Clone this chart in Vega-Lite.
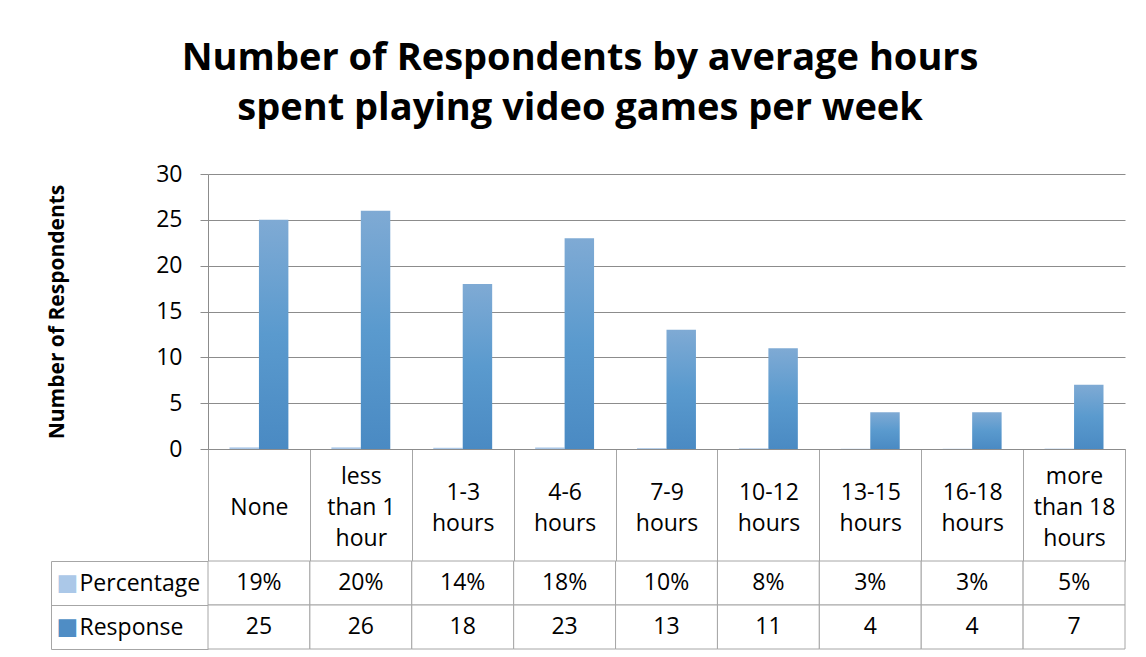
{
  "$schema": "https://vega.github.io/schema/vega-lite/v6.json",
  "padding": {"left": 46, "top": 40, "right": 20, "bottom": 8},
  "background": "white",
  "spacing": 112,
  "bounds": "flush",
  "config": {
    "font": "Open Sans",
    "view": {"stroke": null}
  },
  "title": {
    "text": ["Number of Respondents by average hours", "spent playing video games per week"],
    "fontSize": 38,
    "fontWeight": "bold",
    "lineHeight": 50,
    "color": "black",
    "anchor": "middle",
    "dx": -6,
    "offset": 35
  },
  "datasets": {
    "rows": [
      {"hours": "None", "series": "Percentage", "value": 0.19},
      {"hours": "None", "series": "Response", "value": 25},
      {"hours": "less than 1 hour", "series": "Percentage", "value": 0.20},
      {"hours": "less than 1 hour", "series": "Response", "value": 26},
      {"hours": "1-3 hours", "series": "Percentage", "value": 0.14},
      {"hours": "1-3 hours", "series": "Response", "value": 18},
      {"hours": "4-6 hours", "series": "Percentage", "value": 0.18},
      {"hours": "4-6 hours", "series": "Response", "value": 23},
      {"hours": "7-9 hours", "series": "Percentage", "value": 0.10},
      {"hours": "7-9 hours", "series": "Response", "value": 13},
      {"hours": "10-12 hours", "series": "Percentage", "value": 0.08},
      {"hours": "10-12 hours", "series": "Response", "value": 11},
      {"hours": "13-15 hours", "series": "Percentage", "value": 0.03},
      {"hours": "13-15 hours", "series": "Response", "value": 4},
      {"hours": "16-18 hours", "series": "Percentage", "value": 0.03},
      {"hours": "16-18 hours", "series": "Response", "value": 4},
      {"hours": "more than 18 hours", "series": "Percentage", "value": 0.05},
      {"hours": "more than 18 hours", "series": "Response", "value": 7}
    ]
  },
  "vconcat": [
    {
      "width": 917,
      "height": 275,
      "data": {"name": "rows"},
      "encoding": {
        "x": {
          "field": "hours",
          "type": "nominal",
          "sort": null,
          "scale": {"padding": 0},
          "axis": {
            "title": null,
            "domainColor": "#8c8c8c",
            "tickBand": "extent",
            "tickSize": 112,
            "tickColor": "#a6a6a6",
            "labelPadding": -69,
            "labelBaseline": {
              "condition": [
                {"test": "datum.value == 'less than 1 hour' || datum.value == 'more than 18 hours'", "value": "line-bottom"},
                {"test": "datum.value == 'None'", "value": "line-top"}
              ],
              "value": "middle"
            },
            "labelAngle": 0,
            "labelFontSize": 23,
            "labelLineHeight": 31,
            "labelColor": "black",
            "labelOverlap": false,
            "labelLimit": 200,
            "labelExpr": "datum.value == null ? '' : datum.value == 'less than 1 hour' ? ['less', 'than 1', 'hour'] : datum.value == 'more than 18 hours' ? ['more', 'than 18', 'hours'] : split(datum.value, ' ')"
          }
        },
        "xOffset": {
          "field": "series",
          "type": "nominal",
          "scale": {"domain": ["Percentage", "Response"], "paddingInner": 0, "paddingOuter": 0.73}
        },
        "y": {
          "field": "value",
          "type": "quantitative",
          "scale": {"domain": [0, 30]},
          "axis": {
            "title": "Number of Respondents",
            "titleFontSize": 21,
            "titleFontWeight": "bold",
            "titleColor": "black",
            "titlePadding": 88,
            "values": [0, 5, 10, 15, 20, 25, 30],
            "grid": true,
            "gridColor": "#8c8c8c",
            "domainColor": "#8c8c8c",
            "tickColor": "#8c8c8c",
            "tickSize": 8,
            "labelFontSize": 23,
            "labelPadding": 18,
            "labelColor": "black"
          }
        }
      },
      "layer": [
        {
          "transform": [{"filter": "datum.series == 'Percentage'"}],
          "mark": {
            "type": "bar",
            "fill": {"x1": 0, "y1": 0, "x2": 0, "y2": 1, "gradient": "linear", "stops": [{"offset": 0, "color": "#bcd3ec"}, {"offset": 1, "color": "#a2c1e4"}]}
          }
        },
        {
          "transform": [{"filter": "datum.series == 'Response'"}],
          "mark": {
            "type": "bar",
            "fill": {"x1": 0, "y1": 0, "x2": 0, "y2": 1, "gradient": "linear", "stops": [{"offset": 0, "color": "#7faad4"}, {"offset": 0.5, "color": "#5a9ace"}, {"offset": 1, "color": "#4a8ac3"}]}
          }
        }
      ]
    },
    {
      "width": 917,
      "height": 88,
      "data": {"name": "rows"},
      "encoding": {
        "x": {"field": "hours", "type": "nominal", "sort": null, "scale": {"padding": 0}, "axis": null}
      },
      "layer": [
        {
          "mark": {"type": "rect", "fill": "white", "stroke": "#a6a6a6", "strokeWidth": 1},
          "encoding": {
            "y": {
              "field": "series",
              "type": "nominal",
              "sort": ["Percentage", "Response"],
              "scale": {"padding": 0},
              "axis": {
                "orient": "left",
                "title": null,
                "offset": 157,
                "domain": true,
                "domainColor": "#a6a6a6",
                "ticks": false,
                "tickSize": 0,
                "grid": false,
                "labelExpr": "'■'",
                "labelFont": "DejaVu Sans",
                "labelFontSize": 23,
                "labelAlign": "left",
                "labelPadding": -5,
                "labelColor": {"condition": {"test": "datum.value == 'Percentage'", "value": "#abc8e8"}, "value": "#4f8dc5"}
              }
            }
          }
        },
        {
          "transform": [{"filter": "datum.series == 'Percentage'"}],
          "mark": {"type": "text", "fontSize": 23, "color": "black"},
          "encoding": {
            "y": {
              "field": "series",
              "type": "nominal",
              "sort": ["Percentage", "Response"],
              "scale": {"padding": 0},
              "axis": {
                "orient": "left",
                "title": null,
                "domain": false,
                "grid": false,
                "ticks": true,
                "tickBand": "extent",
                "tickSize": 157,
                "tickColor": "#a6a6a6",
                "labelAlign": "left",
                "labelPadding": -28,
                "labelFontSize": 23,
                "labelColor": "black"
              }
            },
            "text": {"field": "value", "type": "quantitative", "format": ".0%"}
          }
        },
        {
          "transform": [{"filter": "datum.series == 'Response'"}],
          "mark": {"type": "text", "fontSize": 23, "color": "black"},
          "encoding": {
            "y": {
              "field": "series",
              "type": "nominal",
              "sort": ["Percentage", "Response"],
              "scale": {"padding": 0},
              "axis": null
            },
            "text": {"field": "value", "type": "quantitative"}
          }
        }
      ],
      "resolve": {"axis": {"y": "independent"}}
    }
  ]
}
